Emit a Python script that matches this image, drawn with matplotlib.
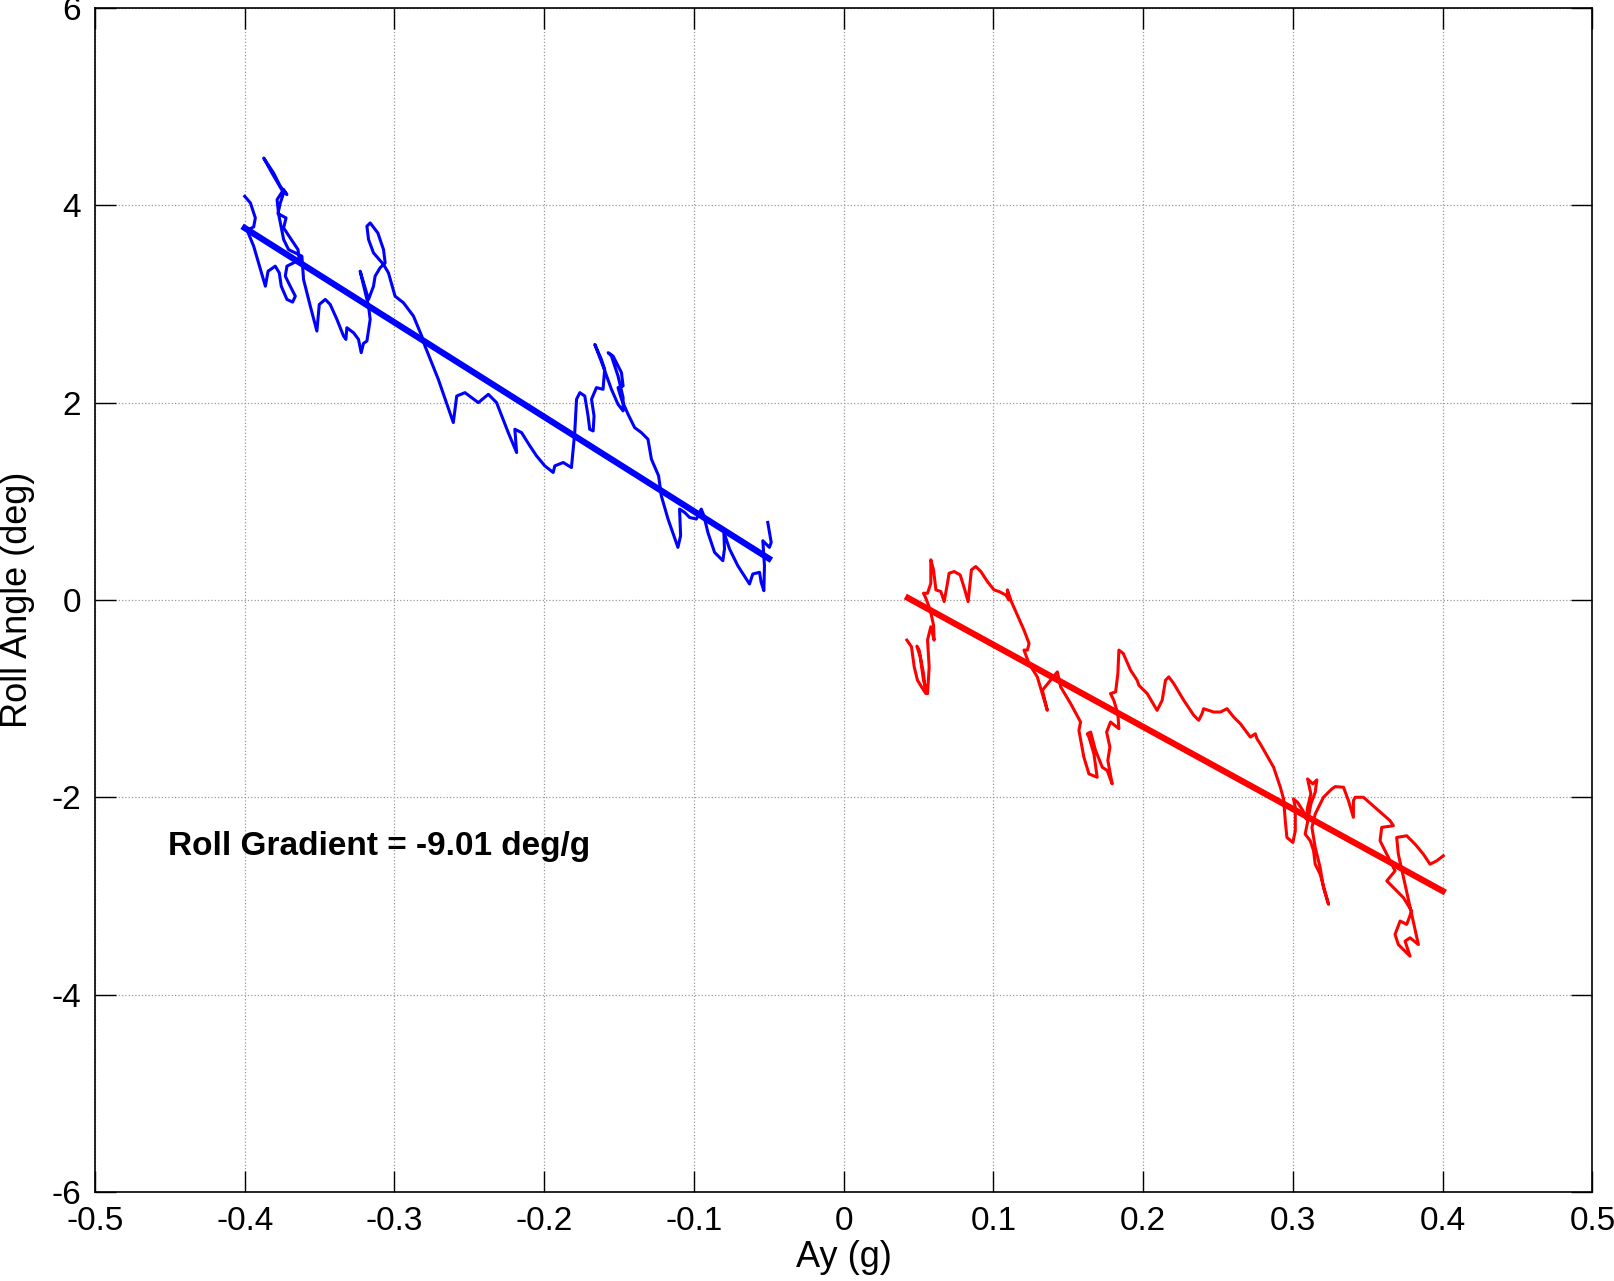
import matplotlib
matplotlib.use('Agg')
import matplotlib.pyplot as plt
import numpy as np

# measured roll angle vs lateral accel, left turn (blue) and right turn (red)
left_ay = [-0.4, -0.3962, -0.3929, -0.394, -0.3984, -0.394, -0.3862, -0.3844, -0.3796, -0.3769,
           -0.3756, -0.3718, -0.368, -0.3662, -0.3696, -0.3729, -0.3718, -0.3673, -0.3636, -0.3644,
           -0.3696, -0.374, -0.3724, -0.3778, -0.3762, -0.374, -0.3818, -0.3873, -0.3807, -0.3762,
           -0.3718, -0.374, -0.3784, -0.3773, -0.374, -0.3707, -0.3618, -0.3607, -0.3562, -0.3518,
           -0.3502, -0.3462, -0.3429, -0.3384, -0.334, -0.3324, -0.3318, -0.3273, -0.324, -0.3222,
           -0.3207, -0.3184, -0.3162, -0.3173, -0.3229, -0.3173, -0.314, -0.3129, -0.3096, -0.3062,
           -0.3073, -0.3111, -0.3162, -0.3184, -0.3173, -0.314, -0.3073, -0.304, -0.2996, -0.294,
           -0.2873, -0.2818, -0.2796, -0.2707, -0.2607, -0.2584, -0.2529, -0.244, -0.2373, -0.2318,
           -0.224, -0.2184, -0.2196, -0.2151, -0.2096, -0.2051, -0.1996, -0.194, -0.1929, -0.1873,
           -0.1818, -0.1796, -0.1784, -0.1762, -0.1729, -0.1707, -0.1696, -0.1673, -0.1667, -0.1684,
           -0.1651, -0.1607, -0.1596, -0.1618, -0.1662, -0.1607, -0.1551, -0.1507, -0.1473, -0.1473,
           -0.1507, -0.1551, -0.1573, -0.154, -0.1484, -0.1473, -0.1507, -0.1484, -0.144, -0.1396,
           -0.1351, -0.1307, -0.1284, -0.1236, -0.1218, -0.1173, -0.1107, -0.1089, -0.1096, -0.1062,
           -0.1029, -0.0984, -0.0951, -0.0933, -0.0907, -0.0862, -0.0807, -0.0796, -0.08, -0.0762,
           -0.0707, -0.0629, -0.0607, -0.0562, -0.0551, -0.0533, -0.0529, -0.054, -0.0496, -0.0484,
           -0.0507]
left_roll = [4.091, 4.024, 3.872, 3.781, 3.747, 3.585, 3.18, 3.332, 3.383, 3.315,
             3.18, 3.046, 3.019, 3.079, 3.18, 3.282, 3.383, 3.417, 3.45, 3.551,
             3.669, 3.771, 3.872, 3.916, 4.024, 4.125, 4.327, 4.479, 4.327, 4.192,
             4.108, 4.159, 4.057, 3.906, 3.653, 3.551, 3.484, 3.248, 2.978, 2.725,
             2.995, 3.046, 2.995, 2.843, 2.675, 2.641, 2.759, 2.708, 2.641, 2.506,
             2.6, 2.624, 2.843, 2.978, 3.332, 3.046, 3.18, 3.282, 3.366, 3.417,
             3.551, 3.72, 3.821, 3.788, 3.653, 3.518, 3.4, 3.315, 3.079, 3.012,
             2.877, 2.675, 2.573, 2.236, 1.798, 2.067, 2.101, 2.0, 2.084, 2.0,
             1.696, 1.494, 1.73, 1.696, 1.562, 1.46, 1.359, 1.292, 1.359, 1.393,
             1.342, 1.696, 2.034, 2.101, 2.067, 1.865, 1.73, 1.713, 1.865, 2.034,
             2.152, 2.135, 2.337, 2.438, 2.59, 2.371, 2.135, 1.983, 1.916, 2.051,
             2.27, 2.472, 2.506, 2.472, 2.304, 2.169, 2.152, 2.034, 1.882, 1.747,
             1.696, 1.629, 1.427, 1.258, 1.056, 0.82, 0.533, 0.651, 0.921, 0.887,
             0.836, 0.82, 0.921, 0.853, 0.685, 0.482, 0.398, 0.516, 0.685, 0.516,
             0.347, 0.162, 0.263, 0.28, 0.179, 0.094, 0.347, 0.6, 0.533, 0.583,
             0.786]

right_ay = [0.0422, 0.0453, 0.0471, 0.0493, 0.0527, 0.0549, 0.0533, 0.0504, 0.0489, 0.0511,
            0.0533, 0.056, 0.0571, 0.056, 0.0582, 0.0604, 0.06, 0.0578, 0.0549, 0.0533,
            0.056, 0.0582, 0.0582, 0.06, 0.0616, 0.0649, 0.0671, 0.0693, 0.0704, 0.0738,
            0.0778, 0.0809, 0.0831, 0.0844, 0.0853, 0.0882, 0.0916, 0.096, 0.1004, 0.1038,
            0.1082, 0.1104, 0.1093, 0.112, 0.116, 0.1204, 0.1238, 0.1227, 0.1204, 0.1238,
            0.1293, 0.136, 0.1327, 0.1427, 0.1449, 0.1516, 0.1582, 0.1571, 0.1604, 0.1638,
            0.1693, 0.1671, 0.1638, 0.1627, 0.1649, 0.1682, 0.1727, 0.176, 0.1793, 0.1764,
            0.1778, 0.1756, 0.1782, 0.1838, 0.1831, 0.1804, 0.1782, 0.1816, 0.1831, 0.1838,
            0.1867, 0.1916, 0.196, 0.1971, 0.2027, 0.2093, 0.2127, 0.2149, 0.2171, 0.2204,
            0.2271, 0.2338, 0.2371, 0.2393, 0.2404, 0.2471, 0.2516, 0.256, 0.2604, 0.2649,
            0.2716, 0.2749, 0.276, 0.2782, 0.2871, 0.2916, 0.2938, 0.2949, 0.296, 0.3,
            0.3016, 0.3016, 0.3004, 0.3031, 0.3067, 0.3089, 0.3098, 0.312, 0.3098, 0.3133,
            0.316, 0.3149, 0.312, 0.3104, 0.3082, 0.3116, 0.3138, 0.3149, 0.3182, 0.3238,
            0.3204, 0.3182, 0.3149, 0.3127, 0.3149, 0.3204, 0.326, 0.3282, 0.3338, 0.3371,
            0.3404, 0.3404, 0.3416, 0.3471, 0.356, 0.3649, 0.3671, 0.3593, 0.3582, 0.3638,
            0.3682, 0.3627, 0.3693, 0.3738, 0.3793, 0.376, 0.3716, 0.3682, 0.3704, 0.3782,
            0.3749, 0.3782, 0.3838, 0.3793, 0.3738, 0.3704, 0.3693, 0.376, 0.3816, 0.3871,
            0.3916, 0.396, 0.4004]
right_roll = [-0.407, -0.475, -0.678, -0.814, -0.898, -0.949, -0.746, -0.508, -0.468, -0.576,
              -0.814, -0.949, -0.678, -0.407, -0.271, -0.407, -0.254, -0.102, 0.017, 0.068,
              0.068, 0.169, 0.407, 0.305, 0.102, 0.085, -0.017, 0.169, 0.271, 0.288,
              0.254, 0.102, -0.017, 0.169, 0.305, 0.339, 0.288, 0.186, 0.102, 0.085,
              0.051, 0.0, 0.102, -0.017, -0.153, -0.305, -0.441, -0.508, -0.508, -0.644,
              -0.78, -1.119, -0.915, -0.729, -0.881, -1.051, -1.237, -1.322, -1.593, -1.763,
              -1.797, -1.559, -1.39, -1.356, -1.339, -1.525, -1.695, -1.729, -1.864, -1.627,
              -1.492, -1.339, -1.237, -1.305, -1.153, -1.017, -0.949, -0.932, -0.746, -0.508,
              -0.542, -0.712, -0.814, -0.864, -0.949, -1.119, -1.017, -0.814, -0.78, -0.847,
              -1.017, -1.169, -1.22, -1.153, -1.102, -1.136, -1.136, -1.102, -1.186, -1.254,
              -1.39, -1.356, -1.407, -1.458, -1.695, -1.898, -2.017, -2.237, -2.407, -2.458,
              -2.339, -2.102, -2.017, -2.051, -2.136, -2.22, -2.102, -1.966, -1.814, -1.864,
              -1.824, -1.949, -2.068, -2.203, -2.373, -2.441, -2.542, -2.678, -2.78, -3.085,
              -2.915, -2.712, -2.508, -2.305, -2.169, -2.0, -1.915, -1.892, -1.898, -2.034,
              -2.203, -2.034, -2.0, -2.0, -2.119, -2.237, -2.288, -2.305, -2.441, -2.61,
              -2.746, -2.847, -2.949, -3.017, -3.153, -3.288, -3.254, -3.39, -3.492, -3.61,
              -3.458, -3.424, -3.492, -3.186, -2.814, -2.576, -2.407, -2.39, -2.475, -2.576,
              -2.678, -2.644, -2.593]

# linear fits (end points)
left_fit_ay = [-0.40, -0.05]
left_fit_roll = [3.77, 0.42]
right_fit_ay = [0.043, 0.40]
right_fit_roll = [0.02, -2.95]

gradient_text = 'Roll Gradient = -9.01 deg/g'

plt.rcParams['font.family'] = ['Liberation Sans', 'DejaVu Sans']

fig = plt.figure(figsize=(16.15, 12.81), dpi=100)
ax = fig.add_axes([0.0588, 0.0695, 0.9272, 0.9243])

ax.plot(left_ay, left_roll, color='#0000ff', lw=2.2)
ax.plot(right_ay, right_roll, color='#ff0000', lw=2.2)
ax.plot(left_fit_ay, left_fit_roll, color='#0000ff', lw=4.5)
ax.plot(right_fit_ay, right_fit_roll, color='#ff0000', lw=4.5)

ax.text(-0.451, -2.5, gradient_text, fontsize=24, fontweight='bold', va='center', ha='left')

ax.set_xlim(-0.5, 0.5)
ax.set_ylim(-6, 6)
ax.set_xticks(np.arange(-0.5, 0.51, 0.1))
ax.set_xticklabels(['-0.5', '-0.4', '-0.3', '-0.2', '-0.1', '0', '0.1', '0.2', '0.3', '0.4', '0.5'])
ax.set_yticks(np.arange(-6, 7, 2))
ax.set_yticklabels(['-6', '-4', '-2', '0', '2', '4', '6'])
ax.tick_params(direction='in', length=15, width=1, labelsize=24, top=True, right=True, pad=10)
ax.grid(True, linestyle=':', color='#999999', lw=0.9)
for s in ax.spines.values():
    s.set_linewidth(1.2)

ax.set_xlabel('Ay (g)', fontsize=26, labelpad=2)
ax.set_ylabel('Roll Angle (deg)', fontsize=26, labelpad=12)

fig.savefig('out.png', dpi=100)
